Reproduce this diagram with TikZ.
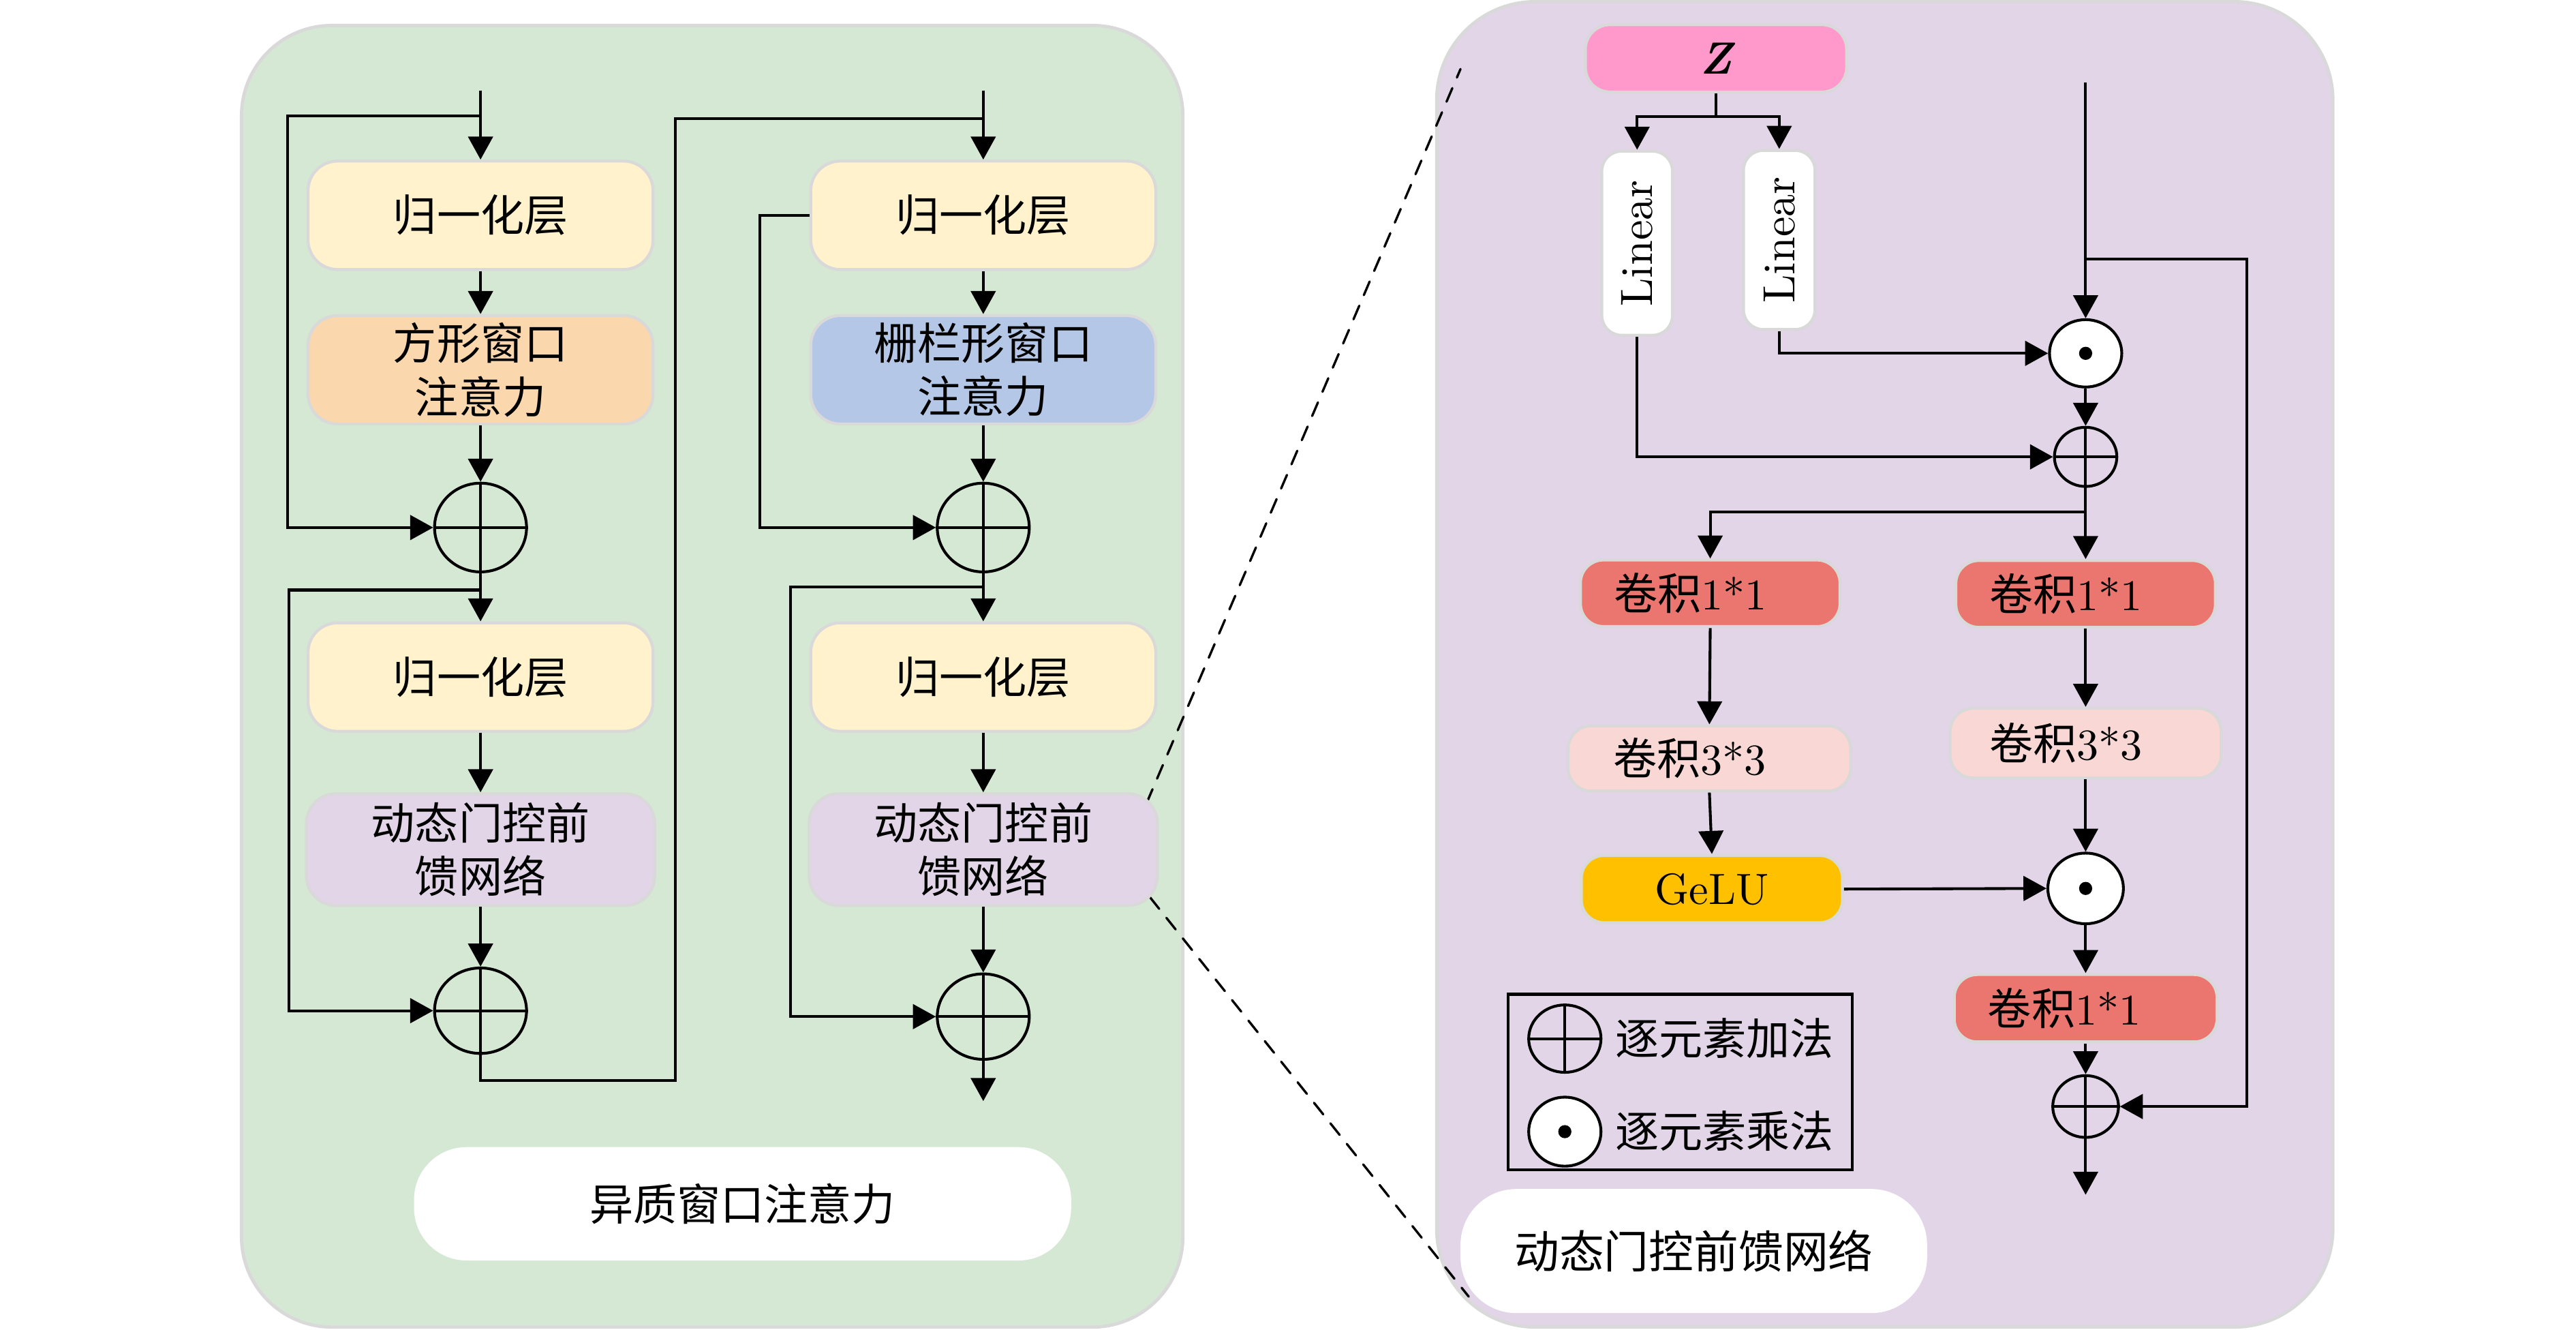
\documentclass[tikz,border=0pt]{standalone}
\usepackage{fontspec}
\newfontfamily\cjk{Noto Sans CJK SC}
\newfontfamily\lmten{lmroman10-regular.otf}[BoldItalicFont=lmroman10-bolditalic.otf]
\usetikzlibrary{shapes.geometric,arrows.meta}
\definecolor{pgreen}{HTML}{D5E8D4}
\definecolor{ppurple}{HTML}{E1D5E7}
\definecolor{bgray}{HTML}{D9D9D9}
\definecolor{cyellow}{HTML}{FFF2CC}
\definecolor{corange}{HTML}{FAD7AC}
\definecolor{cblue}{HTML}{B4C7E7}
\definecolor{clav}{HTML}{E1D5E7}
\definecolor{cpink}{HTML}{FF99CC}
\definecolor{cred}{HTML}{EA766F}
\definecolor{clight}{HTML}{F8D7D4}
\definecolor{cgold}{HTML}{FFC000}
\newcommand\cjkf{\cjk\fontsize{26.6}{32.5}\selectfont}
\newcommand\latf{\lmten\fontsize{26.6}{32}\selectfont}
\newcommand\linf{\lmten\fontsize{27.5}{33}\selectfont}
\newcommand\pluscross[1]{\draw[ln] (#1.north)--(#1.south) (#1.west)--(#1.east);}
\newcommand\dotmark[1]{\fill (#1) circle (4pt);}
\begin{document}
\begin{tikzpicture}[x=1pt,y=-1pt,
  ln/.style={line width=1.7pt},
  conn/.style={line width=1.7pt,-{Triangle[width=15pt,length=14pt]}},
  box/.style={draw=bgray,line width=1.8pt,rounded corners=18pt,inner sep=0pt,align=center,font=\cjkf},
  panel/.style={draw=bgray,line width=2pt,rounded corners=#1},
  opnode/.style={ellipse,draw,line width=1.7pt,inner sep=0pt},
  lbl/.style={fill=white,rounded corners=32pt,inner sep=0pt},
  dline/.style={line width=1.4pt,line cap=round,dash pattern=on 9pt off 7pt}
]
\useasboundingbox (0,0) rectangle (1568,809);
% panels
\draw[panel=55pt,fill=pgreen] (147,15.5) rectangle (720,807.5);
\draw[panel=60pt,fill=ppurple] (874.5,1) rectangle (1420,807.5);

% dashed zoom lines
\coordinate (dsA) at (698,488.5);
\coordinate (dsB) at (889,42);
\coordinate (dsC) at (700,546);
\coordinate (dsD) at (894,789);
\draw[dline] (dsA) -- (dsB);
\draw[dline] (dsC) -- (dsD);

% ---------- left panel ----------
\node[box,fill=cyellow,minimum width=210pt,minimum height=66pt] (nA1) at (292.5,131) {归一化层};
\node[box,fill=corange,minimum width=210pt,minimum height=66pt] (nA2) at (292.5,225) {方形窗口\\注意力};
\node[opnode,minimum width=56pt,minimum height=54pt] (pA1) at (292.5,321) {};
\node[box,fill=cyellow,minimum width=210pt,minimum height=66pt] (nA3) at (292.5,412) {归一化层};
\node[box,fill=clav,minimum width=212pt,minimum height=68pt] (nA4) at (292.5,517) {动态门控前\\馈网络};
\node[opnode,minimum width=56pt,minimum height=52pt] (pA2) at (292.5,615) {};

\node[box,fill=cyellow,minimum width=210pt,minimum height=66pt] (nB1) at (598.5,131) {归一化层};
\node[box,fill=cblue,minimum width=210pt,minimum height=66pt] (nB2) at (598.5,225) {栅栏形窗口\\注意力};
\node[opnode,minimum width=56pt,minimum height=54pt] (pB1) at (598.5,321) {};
\node[box,fill=cyellow,minimum width=210pt,minimum height=66pt] (nB3) at (598.5,412) {归一化层};
\node[box,fill=clav,minimum width=212pt,minimum height=68pt] (nB4) at (598.5,517) {动态门控前\\馈网络};
\node[opnode,minimum width=56pt,minimum height=52pt] (pB2) at (598.5,618.6) {};

\node[lbl,minimum width=400pt,minimum height=69pt,font=\cjkf] (lblL) at (452,732.5) {异质窗口注意力};

\pluscross{pA1}
\pluscross{pA2}
\pluscross{pB1}
\pluscross{pB2}

% column A connectors
\coordinate (inA) at (292.5,55);
\coordinate (jA1) at (292.5,70.5);
\coordinate (jA2) at (292.5,359);
\draw[conn] (inA) -- (nA1.north);
\draw[conn] (jA1) -- (175,70.5) |- (pA1.west);
\draw[conn] (nA1.south) -- (nA2.north);
\draw[conn] (nA2.south) -- (pA1.north);
\draw[conn] (pA1.south) -- (nA3.north);
\draw[conn] (jA2) -- (176,359) |- (pA2.west);
\draw[conn] (nA3.south) -- (nA4.north);
\draw[conn] (nA4.south) -- (pA2.north);
\coordinate (jB0) at (598.5,72);
\draw[ln] (pA2.south) -- (292.5,657.5) -- (411,657.5) -- (411,72) -- (jB0);

% column B connectors
\coordinate (inB) at (598.5,55);
\coordinate (jB2) at (598.5,357);
\coordinate (outB) at (598.5,670);
\draw[conn] (inB) -- (nB1.north);
\draw[conn] (nB1.west) -- (462.5,131) |- (pB1.west);
\draw[conn] (nB1.south) -- (nB2.north);
\draw[conn] (nB2.south) -- (pB1.north);
\draw[conn] (pB1.south) -- (nB3.north);
\draw[conn] (jB2) -- (481,357) |- (pB2.west);
\draw[conn] (nB3.south) -- (nB4.north);
\draw[conn] (nB4.south) -- (pB2.north);
\draw[conn] (pB2.south) -- (outB);

% ---------- right panel ----------
\node[box,fill=cpink,minimum width=159pt,minimum height=41pt,rounded corners=15pt,font=\linf\bfseries\itshape] (Z) at (1044.5,35.5) {Z};
\node[box,fill=white,minimum width=43pt,minimum height=112pt,rounded corners=12pt,font=\linf] (LinL) at (996.5,148) {\rotatebox{90}{Linear}};
\node[box,fill=white,minimum width=43.5pt,minimum height=109pt,rounded corners=12pt,font=\linf] (LinR) at (1083,146) {\rotatebox{90}{Linear}};
\node[opnode,fill=white,minimum width=44pt,minimum height=41pt] (d1) at (1269.5,215) {};
\node[opnode,minimum width=38pt,minimum height=36pt] (pR1) at (1269.5,278) {};
\node[box,fill=cred,minimum width=158pt,minimum height=40.5pt,rounded corners=14pt,font=\latf] (cL1) at (1041,361) {\hspace*{-24pt}{\cjk 卷积}1*1};
\node[box,fill=cred,minimum width=158pt,minimum height=40.7pt,rounded corners=14pt,font=\latf] (cR1) at (1269.5,361.4) {\hspace*{-24pt}{\cjk 卷积}1*1};
\node[box,fill=clight,minimum width=172pt,minimum height=39.7pt,rounded corners=14pt,font=\latf] (cL3) at (1040.5,461.5) {\hspace*{-24pt}{\cjk 卷积}3*3};
\node[box,fill=clight,minimum width=165pt,minimum height=42.4pt,rounded corners=14pt,font=\latf] (cR3) at (1269.5,452.2) {\hspace*{-24pt}{\cjk 卷积}3*3};
\node[box,fill=cgold,minimum width=159pt,minimum height=41pt,rounded corners=14pt,font=\latf] (gelu) at (1042,541) {GeLU};
\node[opnode,fill=white,minimum width=46pt,minimum height=43pt] (d2) at (1269.5,540.6) {};
\node[box,fill=cred,minimum width=160pt,minimum height=41pt,rounded corners=14pt,font=\latf] (cF) at (1269.5,613.5) {\hspace*{-26pt}{\cjk 卷积}1*1};
\node[opnode,minimum width=40pt,minimum height=37.6pt] (pF) at (1269.5,673.3) {};

\pluscross{pR1}
\pluscross{pF}
\dotmark{d1}
\dotmark{d2}

% legend
\node[draw,line width=1.8pt,minimum width=209.5pt,minimum height=106.7pt,inner sep=0pt] (leg) at (1022.75,658.35) {};
\node[opnode,minimum width=44pt,minimum height=41pt] (lp) at (952.5,632) {};
\node[opnode,fill=white,minimum width=44pt,minimum height=42pt] (ld) at (952.5,688.6) {};
\pluscross{lp}
\dotmark{ld}
\node[anchor=west,inner sep=0pt,font=\cjkf] (lt1) at (983,632) {逐元素加法};
\node[anchor=west,inner sep=0pt,font=\cjkf] (lt2) at (983,688) {逐元素乘法};

\node[lbl,minimum width=284pt,minimum height=75.5pt,rounded corners=34pt,font=\cjk\fontsize{27.3}{32}\selectfont] (lblR) at (1031,761.25) {动态门控前馈网络};

% right connectors
\coordinate (zj) at (1044.5,71);
\draw[ln] (Z.south) -- (zj);
\draw[conn] (zj) -| (LinL.north);
\draw[conn] (zj) -| (LinR.north);
\coordinate (inR) at (1269.5,50);
\coordinate (jR) at (1269.5,157.5);
\draw[conn] (inR) -- (d1.north);
\draw[conn] (jR) -- (1367.5,157.5) |- (pF.east);
\draw[conn] (LinR.south) |- (d1.west);
\draw[conn] (d1.south) -- (pR1.north);
\draw[conn] (LinL.south) |- (pR1.west);
\coordinate (jR2) at (1269.5,311.5);
\draw[conn] (pR1.south) -- (cR1.north);
\draw[conn] (jR2) -| (cL1.north);
\draw[conn] (cL1.south) -- (cL3.north);
\draw[conn] (cR1.south) -- (cR3.north);
\draw[conn] (cL3.south) -- (gelu.north);
\draw[conn] (gelu.east) -- (d2.west);
\draw[conn] (cR3.south) -- (d2.north);
\draw[conn] (d2.south) -- (cF.north);
\draw[conn] (cF.south) -- (pF.north);
\coordinate (outR) at (1269.5,727);
\draw[conn] (pF.south) -- (outR);
\end{tikzpicture}
\end{document}
